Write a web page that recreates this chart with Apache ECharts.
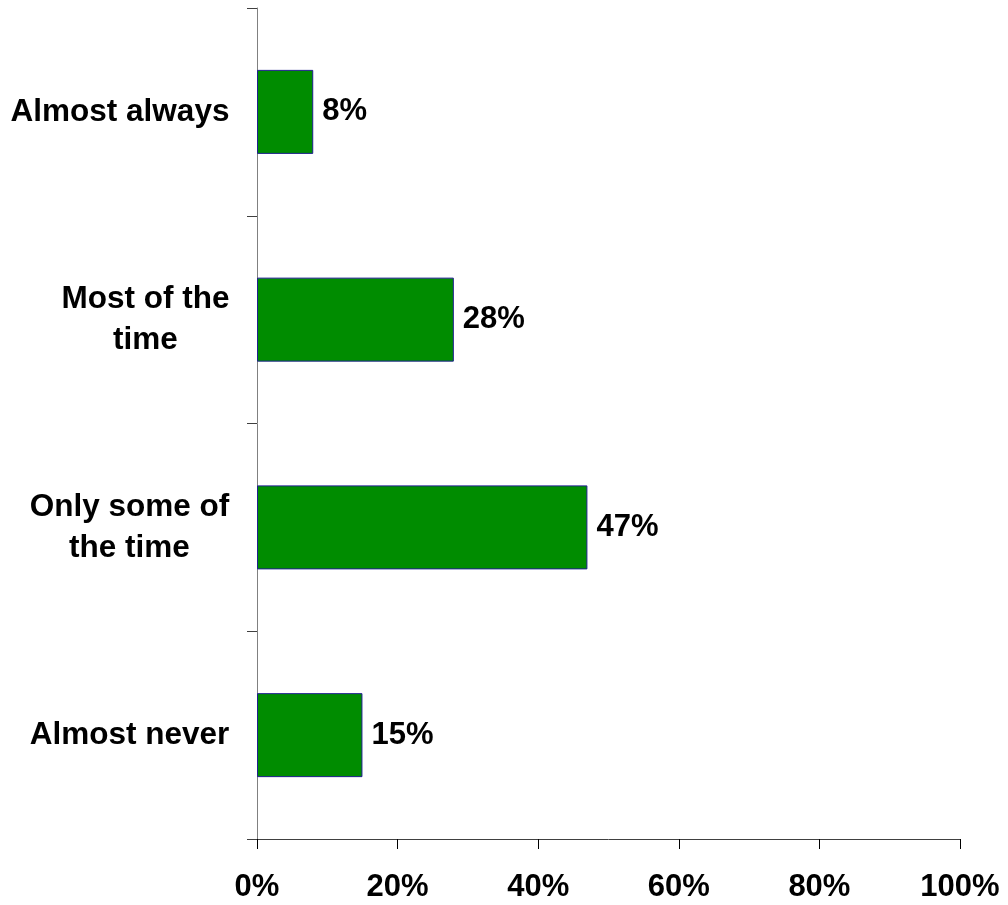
<!DOCTYPE html>
<html><head><meta charset="utf-8">
<script src="https://cdn.jsdelivr.net/npm/echarts@6/dist/echarts.min.js"></script>
<style>html,body{margin:0;padding:0;background:#fff}#c{width:1008px;height:905px}</style>
</head><body><div id="c"></div>
<script>
const categories = ['Almost always', 'Most of the\ntime', 'Only some of\nthe time', 'Almost never'];
const values = [8, 28, 47, 15];
const xTicks = [0, 20, 40, 60, 80, 100];

const FONT = 'Arial, "Liberation Sans", sans-serif';
const CAT_SIZE = 31.5;
const ctx = document.createElement('canvas').getContext('2d');
ctx.font = 'bold ' + CAT_SIZE + 'px Arial, "Liberation Sans", sans-serif';
const rich = {};
categories.forEach((c, i) => {
  const w = Math.max(...c.split('\n').map(l => ctx.measureText(l).width));
  rich['l' + i] = { width: Math.ceil(w) + 1, align: 'center', fontSize: CAT_SIZE, fontWeight: 'bold', fontFamily: FONT, color: '#000', lineHeight: 41 };
});

const chart = echarts.init(document.getElementById('c'), null, { renderer: 'canvas' });
chart.setOption({
  animation: false,
  backgroundColor: '#fff',
  grid: { left: 257, right: 48, top: 8, bottom: 66, containLabel: false },
  xAxis: {
    type: 'value', min: 0, max: 100, interval: 20,
    axisLine: { show: true, lineStyle: { color: '#404040', width: 1 } },
    axisTick: { show: true, length: 10, lineStyle: { color: '#000' } },
    splitLine: { show: false },
    axisLabel: { formatter: v => xTicks.includes(v) ? v + '%' : '', margin: 33, fontSize: 31, fontWeight: 'bold', fontFamily: FONT, color: '#000' }
  },
  yAxis: {
    type: 'category', data: categories, inverse: true,
    axisLine: { show: true, lineStyle: { color: '#808080', width: 1 } },
    axisTick: { show: true, length: 10, lineStyle: { color: '#404040' } },
    axisLabel: {
      margin: 27, align: 'right',
      formatter: (v) => { const idx = categories.indexOf(v); return v.split('\n').map(l => '{l' + idx + '|' + l + '}').join('\n'); },
      rich: rich
    }
  },
  series: [{
    type: 'bar', data: values, barWidth: 84,
    itemStyle: { color: '#008c00', borderColor: '#1f1f8f', borderWidth: 1 },
    label: { show: true, position: 'right', distance: 9, formatter: p => p.value + '%', fontSize: 31, fontWeight: 'bold', fontFamily: FONT, color: '#000' }
  }]
});
</script></body></html>
